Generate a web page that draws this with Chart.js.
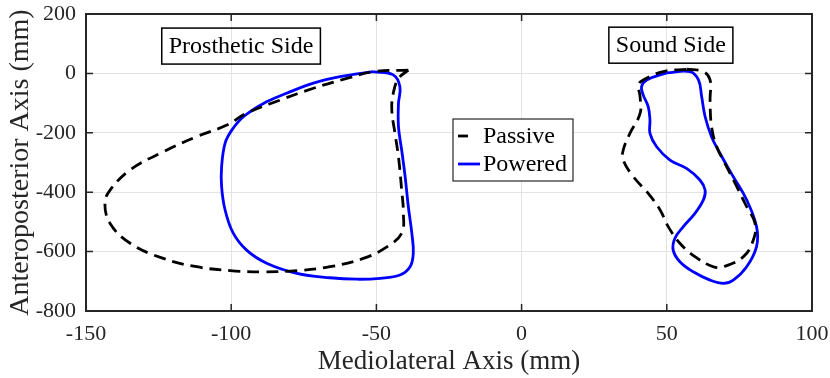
<!DOCTYPE html>
<html lang="en">
<head>
    <meta charset="UTF-8">
    <title>Mediolateral vs Anteroposterior</title>
    <script src="https://cdn.jsdelivr.net/npm/chart.js"></script>
    <style>
        body { margin: 0; background: #ffffff; }
    </style>
</head>
<body>
    <canvas id="loops" width="830" height="378"></canvas>

    <script>
        // traced loops (mm)
        const passiveProsX = [-39.0, -51.1, -60.2, -71.7, -83.2, -94.7, -101.5, -111.9, -123.4, -134.8, -141.7, -143.5, -141.7, -134.8, -123.4, -111.9, -100.4, -88.9, -77.4, -66.0, -54.5, -46.4, -41.3, -40.7, -41.3, -42.4, -43.6, -44.7, -44.2, -42.4, -39.0];
        const passiveProsY = [11, 6, -17, -50, -90, -134, -174, -213, -264, -325, -393, -437, -505, -572, -623, -651, -664, -668, -664, -651, -623, -584, -538, -471, -393, -281, -202, -123, -67, -17, 11];

        const poweredProsX = [-51.1, -44.2, -41.9, -42.4, -42.4, -41.3, -40.1, -39.0, -37.8, -37.3, -38.4, -41.9, -48.7, -56.8, -66.0, -77.4, -87.8, -94.7, -99.3, -102.1, -103.3, -103.3, -102.1, -99.8, -95.8, -88.9, -80.9, -71.7, -62.5, -51.1];
        const poweredProsY = [6, -5, -45, -101, -179, -258, -348, -449, -538, -606, -651, -679, -690, -693, -688, -673, -639, -595, -538, -460, -382, -314, -235, -191, -146, -101, -67, -33, -11, 6];

        const passiveSoundX = [56.8, 62.6, 64.9, 64.9, 65.4, 67.2, 70.6, 74.1, 77.5, 80.4, 79.8, 76.4, 69.5, 66.0, 59.7, 54.5, 50.5, 47.7, 43.6, 38.5, 35.0, 35.0, 37.3, 40.8, 40.8, 40.2, 41.9, 48.8, 56.8];
        const passiveSoundY = [14, 6, -22, -90, -179, -247, -314, -381, -449, -505, -561, -617, -651, -651, -617, -572, -516, -460, -404, -348, -292, -258, -202, -135, -78, -39, -22, 6, 14];

        const poweredSoundX = [50.0, 58.0, 60.9, 62.0, 63.2, 65.4, 68.3, 72.9, 77.5, 80.9, 80.9, 77.5, 72.9, 69.5, 64.9, 59.1, 54.5, 52.2, 52.8, 55.7, 59.7, 62.6, 63.2, 61.4, 56.8, 51.1, 46.5, 44.2, 44.2, 43.6, 41.9, 41.3, 43.1, 50.0];
        const poweredSoundY = [2, 6, -22, -78, -146, -213, -269, -348, -426, -516, -583, -651, -696, -707, -696, -668, -634, -595, -555, -516, -471, -426, -393, -359, -320, -292, -247, -202, -157, -112, -73, -45, -22, 2];

        const seriesNames = ["Passive", "Powered"];
        const sideLabels = ["Prosthetic Side", "Sound Side"];
        // label anchors in data units
        const sideLabelX = [-96.6, 51.4];
        const sideLabelY = [92, 95];

        const FONT = "'Liberation Serif', 'Times New Roman', serif";
        const AXIS = "#262626";

        function pts(xs, ys) {
            return xs.map((x, i) => ({ x: x, y: ys[i] }));
        }

        const passiveStyle = { borderColor: "#000000", borderWidth: 2.8, borderDash: [12, 7] };
        const poweredStyle = { borderColor: "#0000ff", borderWidth: 2.8 };

        const datasets = [
            Object.assign({ label: seriesNames[0], data: pts(passiveProsX, passiveProsY) }, passiveStyle),
            Object.assign({ label: seriesNames[1], data: pts(poweredProsX, poweredProsY) }, poweredStyle),
            Object.assign({ label: seriesNames[0], data: pts(passiveSoundX, passiveSoundY) }, passiveStyle),
            Object.assign({ label: seriesNames[1], data: pts(poweredSoundX, poweredSoundY) }, poweredStyle)
        ];
        datasets.forEach(d => {
            d.showLine = true;
            d.pointRadius = 0;
            d.tension = 0.4;
            d.fill = false;
        });

        // box, inward ticks, text boxes and legend (MATLAB look)
        const decorations = {
            id: "decorations",
            afterDraw(chart) {
                const ctx = chart.ctx;
                const a = chart.chartArea;
                const xs = chart.scales.x, ys = chart.scales.y;
                ctx.save();

                ctx.strokeStyle = AXIS;
                ctx.lineWidth = 1.5;
                ctx.beginPath();
                xs.ticks.forEach(t => {
                    const px = xs.getPixelForValue(t.value);
                    ctx.moveTo(px, a.bottom); ctx.lineTo(px, a.bottom - 7);
                    ctx.moveTo(px, a.top); ctx.lineTo(px, a.top + 7);
                });
                ys.ticks.forEach(t => {
                    const py = ys.getPixelForValue(t.value);
                    ctx.moveTo(a.left, py); ctx.lineTo(a.left + 7, py);
                    ctx.moveTo(a.right, py); ctx.lineTo(a.right - 7, py);
                });
                ctx.stroke();
                ctx.lineWidth = 2;
                ctx.strokeRect(a.left, a.top, a.right - a.left, a.bottom - a.top);

                // side labels (no background, grid shows through)
                ctx.font = "24px " + FONT;
                ctx.textBaseline = "middle";
                sideLabels.forEach((text, i) => {
                    const cx = xs.getPixelForValue(sideLabelX[i]);
                    const cy = ys.getPixelForValue(sideLabelY[i]);
                    const w = ctx.measureText(text).width + 14;
                    const h = 36;
                    ctx.strokeStyle = "#000000";
                    ctx.lineWidth = 1.5;
                    ctx.strokeRect(cx - w / 2, cy - h / 2, w, h);
                    ctx.fillStyle = "#000000";
                    ctx.textAlign = "center";
                    ctx.fillText(text, cx, cy + 1);
                });

                // legend
                const lx = 453, ly = 119, lw = 120, lh = 62;
                ctx.fillStyle = "#ffffff";
                ctx.fillRect(lx, ly, lw, lh);
                ctx.strokeStyle = AXIS;
                ctx.lineWidth = 1.2;
                ctx.strokeRect(lx, ly, lw, lh);
                [datasets[0], datasets[1]].forEach((d, i) => {
                    const y = ly + 17 + i * 28;
                    ctx.strokeStyle = d.borderColor;
                    ctx.lineWidth = 2.8;
                    ctx.setLineDash(d.borderDash ? [10, 30] : []);
                    ctx.beginPath();
                    ctx.moveTo(lx + 5, y);
                    ctx.lineTo(lx + 27, y);
                    ctx.stroke();
                    ctx.setLineDash([]);
                    ctx.fillStyle = "#000000";
                    ctx.textAlign = "left";
                    ctx.fillText(d.label, lx + 30, y + 1);
                });
                ctx.restore();
            }
        };

        const ctx = document.getElementById("loops").getContext("2d");
        new Chart(ctx, {
            type: "scatter",
            data: { datasets: datasets },
            plugins: [decorations],
            options: {
                responsive: false,
                animation: false,
                layout: { padding: { top: 14, right: 18, left: 0, bottom: 0 } },
                plugins: {
                    legend: { display: false },
                    tooltip: { enabled: false }
                },
                scales: {
                    x: {
                        type: "linear",
                        min: -150,
                        max: 100,
                        ticks: { stepSize: 50, color: AXIS, font: { family: FONT, size: 22 }, padding: 10 },
                        grid: { color: "#e3e3e3", drawTicks: false },
                        border: { display: false },
                        title: {
                            display: true,
                            text: "Mediolateral Axis (mm)",
                            color: AXIS,
                            font: { family: FONT, size: 27 },
                            padding: { top: 0, bottom: 0 }
                        },
                        afterFit(s) {
                            s.height = 67;
                            s.paddingLeft = 0;
                            s.paddingRight = 0;
                        }
                    },
                    y: {
                        type: "linear",
                        min: -800,
                        max: 200,
                        ticks: { stepSize: 200, color: AXIS, font: { family: FONT, size: 22 }, padding: 10 },
                        grid: { color: "#e3e3e3", drawTicks: false },
                        border: { display: false },
                        title: {
                            display: true,
                            text: "Anteroposterior Axis (mm)",
                            color: AXIS,
                            font: { family: FONT, size: 28 },
                            padding: { top: 4, bottom: 0 }
                        },
                        afterFit(s) {
                            s.width = 86;
                            s.paddingTop = 0;
                            s.paddingBottom = 0;
                        }
                    }
                }
            }
        });
    </script>
</body>
</html>
